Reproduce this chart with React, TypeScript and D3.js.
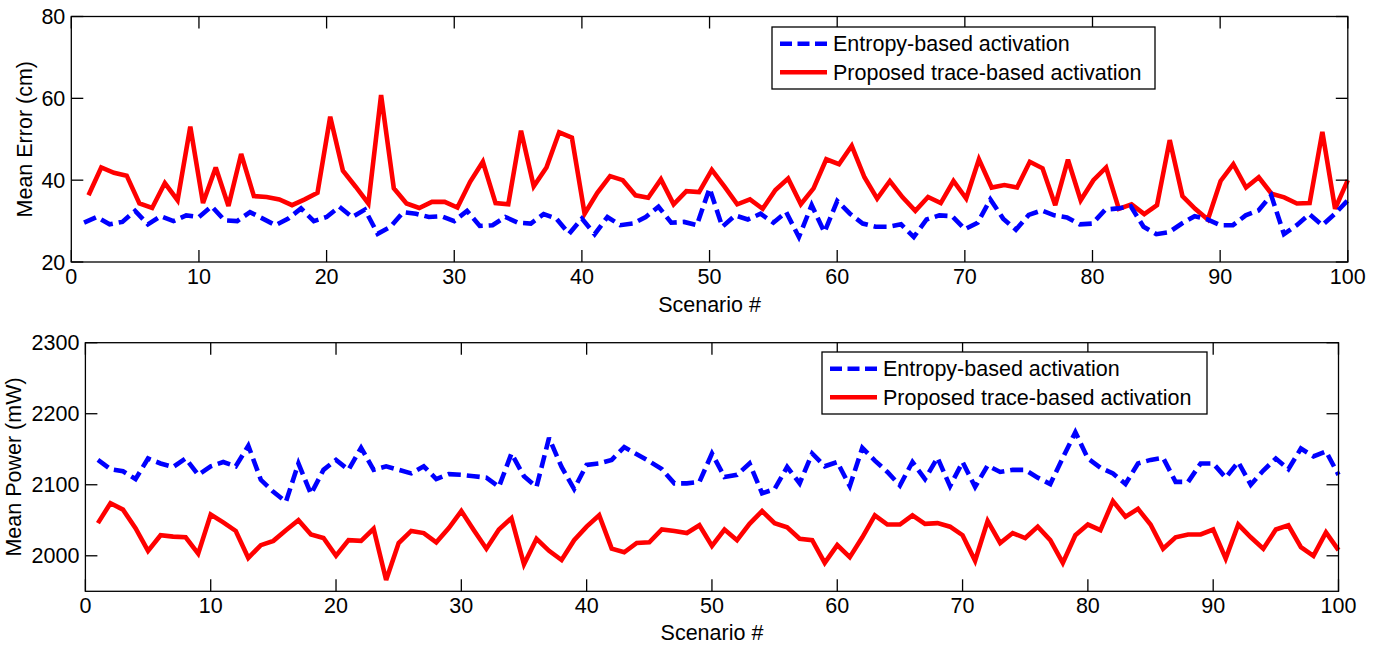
import React from 'react';
import * as d3 from 'd3';

const scenarios: number[] = d3.range(1, 101);

const errorEntropy: number[] = [
  29.6, 31.0, 29.2, 29.8, 32.5, 29.2, 31.2, 30.0, 31.4, 31.0,
  33.6, 30.2, 30.0, 32.2, 30.6, 29.0, 30.6, 33.1, 30.0, 31.0,
  33.5, 31.0, 32.8, 26.9, 28.6, 32.2, 31.8, 31.0, 31.2, 30.0,
  32.5, 28.8, 29.0, 31.0, 29.6, 29.4, 31.7, 30.6, 26.9, 30.6,
  26.8, 31.0, 29.0, 29.4, 31.0, 33.5, 29.6, 29.8, 29.0, 38.0,
  28.6, 31.4, 30.4, 31.8, 29.6, 32.2, 26.1, 33.9, 27.3, 34.9,
  31.8, 29.4, 28.6, 28.6, 29.2, 26.1, 30.4, 31.4, 31.2, 28.0,
  29.6, 35.3, 30.6, 27.9, 31.5, 32.6, 31.4, 30.9, 29.2, 29.4,
  32.8, 33.1, 33.6, 28.6, 26.8, 27.3, 29.4, 31.2, 30.4, 29.0,
  29.0, 31.4, 32.6, 36.3, 26.8, 29.0, 31.7, 29.0, 31.8, 35.1,
];

const errorTrace: number[] = [
  36.3, 43.1, 41.8, 41.1, 34.3, 33.2, 39.3, 35.1, 53.1, 34.4,
  43.1, 33.7, 46.4, 36.1, 35.9, 35.3, 33.9, 35.3, 36.9, 55.5,
  42.3, 38.4, 34.3, 60.8, 38.0, 34.3, 33.2, 34.7, 34.7, 33.3,
  39.6, 44.5, 34.4, 34.1, 52.1, 38.5, 43.1, 51.7, 50.4, 31.8,
  36.9, 41.0, 40.0, 36.3, 35.7, 40.2, 34.1, 37.3, 37.1, 42.5,
  38.4, 34.1, 35.3, 33.0, 37.6, 40.4, 34.1, 38.0, 45.1, 43.9,
  48.4, 40.7, 35.5, 39.8, 35.8, 32.5, 35.9, 34.4, 39.8, 35.5,
  45.1, 38.2, 38.8, 38.2, 44.5, 42.9, 33.9, 45.0, 35.1, 40.0,
  43.1, 33.0, 34.1, 31.7, 33.9, 49.8, 36.1, 33.0, 30.4, 39.8,
  43.9, 38.2, 40.7, 36.7, 35.8, 34.3, 34.4, 51.8, 33.0, 40.0,
];

const powerEntropy: number[] = [
  2135, 2122, 2119, 2108, 2137, 2130, 2125, 2137, 2114, 2126,
  2132, 2126, 2155, 2107, 2090, 2076, 2130, 2087, 2121, 2135,
  2121, 2152, 2121, 2126, 2121, 2116, 2126, 2108, 2115, 2114,
  2112, 2110, 2097, 2144, 2112, 2097, 2166, 2125, 2094, 2128,
  2130, 2135, 2153, 2143, 2133, 2122, 2102, 2102, 2104, 2144,
  2111, 2114, 2130, 2088, 2094, 2125, 2102, 2144, 2126, 2132,
  2098, 2152, 2134, 2118, 2099, 2132, 2108, 2138, 2098, 2132,
  2097, 2127, 2118, 2121, 2121, 2110, 2101, 2138, 2174, 2137,
  2124, 2116, 2101, 2130, 2135, 2138, 2104, 2104, 2130, 2130,
  2110, 2132, 2100, 2120, 2137, 2122, 2151, 2140, 2147, 2114,
];

const powerTrace: number[] = [
  2046, 2074, 2065, 2039, 2007, 2029, 2027, 2026, 2003, 2058,
  2047, 2035, 1997, 2015, 2021, 2036, 2050, 2030, 2025, 2000,
  2022, 2021, 2038, 1966, 2018, 2035, 2032, 2019, 2039, 2063,
  2036, 2010, 2037, 2053, 1988, 2024, 2007, 1994, 2022, 2041,
  2057, 2010, 2005, 2018, 2019, 2037, 2035, 2032, 2043, 2014,
  2037, 2022, 2045, 2063, 2046, 2040, 2024, 2022, 1990, 2015,
  1998, 2026, 2057, 2044, 2044, 2057, 2045, 2046, 2041, 2029,
  1993, 2049, 2018, 2032, 2025, 2041, 2022, 1990, 2029, 2044,
  2036, 2077, 2055, 2066, 2044, 2010, 2026, 2030, 2030, 2037,
  1996, 2044, 2026, 2010, 2037, 2043, 2012, 2000, 2033, 2008,
];

// In the upper panel the trace-based series is plotted on a slightly compressed x grid (first point ~1.35, last at 100)
const errorTraceX: number[] = scenarios.map((s) => d3.scaleLinear().domain([1, 100]).range([1.35, 100])(s));

const xTicks: number[] = [0, 10, 20, 30, 40, 50, 60, 70, 80, 90, 100];
const errorYTicks: number[] = [20, 40, 60, 80];
const powerYTicks: number[] = [2000, 2100, 2200, 2300];

const seriesNames: string[] = ['Entropy-based activation', 'Proposed trace-based activation'];
const xLabel = 'Scenario #';

const FONT = '"Liberation Sans", Arial, Helvetica, sans-serif';
const FS = 21.5;
const TICK = 12;

type PanelProps = {
  x0: number; x1: number; yTop: number; yBot: number;
  yDomain: [number, number]; yTicks: number[]; yLabel: string; yLabelX: number;
  blueX: number[]; blueY: number[]; redX: number[]; redY: number[];
  legend: { x: number; y: number; w: number; h: number };
  xLabelY: number;
};

function Panel(p: PanelProps) {
  const x = d3.scaleLinear().domain([0, 100]).range([p.x0, p.x1]);
  const y = d3.scaleLinear().domain(p.yDomain).range([p.yBot, p.yTop]);
  const line = d3.line<[number, number]>().x((d) => x(d[0])).y((d) => y(d[1]));
  const blue = line(p.blueX.map((v, i) => [v, p.blueY[i]] as [number, number])) || '';
  const red = line(p.redX.map((v, i) => [v, p.redY[i]] as [number, number])) || '';
  const L = p.legend;
  const row1 = L.y + L.h * 0.27;
  const row2 = L.y + L.h * 0.73;
  return (
    <g fontFamily={FONT} fontSize={FS} fill="#000">
      <rect x={p.x0} y={p.yTop} width={p.x1 - p.x0} height={p.yBot - p.yTop} fill="#fff" stroke="none" />
      <path d={red} fill="none" stroke="#ff0000" strokeWidth={4.6} strokeLinejoin="miter" strokeMiterlimit={3} />
      <path d={blue} fill="none" stroke="#0000ff" strokeWidth={4.6} strokeDasharray="13 6" strokeLinejoin="miter" strokeMiterlimit={3} />
      {xTicks.map((t) => (
        <g key={'xt' + t}>
          <line x1={x(t)} x2={x(t)} y1={p.yBot} y2={p.yBot - TICK} stroke="#000" strokeWidth={1.3} />
          <line x1={x(t)} x2={x(t)} y1={p.yTop} y2={p.yTop + TICK} stroke="#000" strokeWidth={1.3} />
          <text x={x(t)} y={p.yBot + 22} textAnchor="middle">{t}</text>
        </g>
      ))}
      {p.yTicks.map((t) => (
        <g key={'yt' + t}>
          <line x1={p.x0} x2={p.x0 + TICK} y1={y(t)} y2={y(t)} stroke="#000" strokeWidth={1.3} />
          <line x1={p.x1} x2={p.x1 - TICK} y1={y(t)} y2={y(t)} stroke="#000" strokeWidth={1.3} />
          <text x={p.x0 - 6} y={y(t) + 7.5} textAnchor="end">{t}</text>
        </g>
      ))}
      <rect x={p.x0} y={p.yTop} width={p.x1 - p.x0} height={p.yBot - p.yTop} fill="none" stroke="#000" strokeWidth={1.3} />
      <text x={(p.x0 + p.x1) / 2} y={p.xLabelY} textAnchor="middle">{xLabel}</text>
      <text transform={`translate(${p.yLabelX},${(p.yTop + p.yBot) / 2}) rotate(-90)`} textAnchor="middle">{p.yLabel}</text>
      <rect x={L.x} y={L.y} width={L.w} height={L.h} fill="#fff" stroke="#000" strokeWidth={1.3} />
      <line x1={L.x + 8} x2={L.x + 55} y1={row1} y2={row1} stroke="#0000ff" strokeWidth={4.6} strokeDasharray="12 5.5" />
      <line x1={L.x + 8} x2={L.x + 55} y1={row2} y2={row2} stroke="#ff0000" strokeWidth={4.6} />
      <text x={L.x + 61} y={row1 + 7.5}>{seriesNames[0]}</text>
      <text x={L.x + 61} y={row2 + 7.5}>{seriesNames[1]}</text>
    </g>
  );
}

export default function App() {
  return (
    <svg width={1381} height={647} style={{ position: 'absolute', left: 0, top: 0, background: '#fff' }}>
      <rect x={0} y={0} width={1381} height={647} fill="#fff" />
      <Panel
        x0={71.3} x1={1347.8} yTop={16.5} yBot={262}
        yDomain={[20, 80]} yTicks={errorYTicks} yLabel="Mean Error (cm)" yLabelX={32}
        blueX={scenarios} blueY={errorEntropy} redX={errorTraceX} redY={errorTrace}
        legend={{ x: 772, y: 27, w: 383, h: 62 }}
        xLabelY={312}
      />
      <Panel
        x0={85.4} x1={1338.5} yTop={342.7} yBot={591.3}
        yDomain={[1950, 2300]} yTicks={powerYTicks} yLabel="Mean Power (mW)" yLabelX={21}
        blueX={scenarios} blueY={powerEntropy} redX={scenarios} redY={powerTrace}
        legend={{ x: 822, y: 352, w: 385, h: 62 }}
        xLabelY={640}
      />
    </svg>
  );
}
